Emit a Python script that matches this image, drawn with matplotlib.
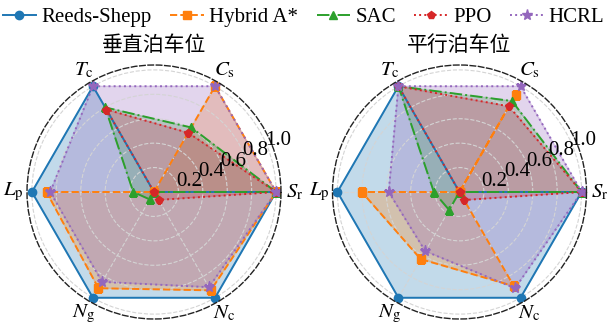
import numpy as np
import matplotlib
matplotlib.use("Agg")
import matplotlib.pyplot as plt

plt.rcParams['font.family'] = ['Liberation Serif', 'DejaVu Serif']
plt.rcParams['mathtext.fontset'] = 'stix'

# metric order: S_r, C_s, T_c, L_p, N_g, N_c
labels = [r'$S_\mathrm{r}$', r'$C_\mathrm{s}$', r'$T_\mathrm{c}$',
          r'$L_\mathrm{p}$', r'$N_\mathrm{g}$', r'$N_\mathrm{c}$']
methods = ['Reeds-Shepp', 'Hybrid A*', 'SAC', 'PPO', 'HCRL']
titles = ['垂直泊车位', '平行泊车位']
rticks = [0.2, 0.4, 0.6, 0.8, 1.0]

# perpendicular parking
perp_rs = [1.0, 0.0, 1.0, 1.0, 1.0, 1.0]
perp_ha = [1.0, 1.0, 0.0, 0.88, 0.91, 0.93]
perp_sac = [1.0, 0.61, 0.80, 0.17, 0.07, 0.0]
perp_ppo = [1.0, 0.56, 0.78, 0.0, 0.0, 0.075]
perp_hcrl = [1.0, 1.0, 1.0, 0.85, 0.85, 0.90]

# parallel parking
par_rs = [1.0, 0.0, 1.0, 1.0, 1.0, 1.0]
par_ha = [0.0, 0.92, 0.0, 0.80, 0.635, 0.89]
par_sac = [1.0, 0.86, 1.0, 0.21, 0.17, 0.0]
par_ppo = [1.0, 0.81, 1.0, 0.0, 0.0, 0.076]
par_hcrl = [1.0, 1.0, 1.0, 0.58, 0.56, 0.91]

colors = ['#1f77b4', '#ff7f0e', '#2ca02c', '#d62728', '#9467bd']
styles = ['-', '--', '-.', ':', ':']
markers = ['o', 's', '^', 'p', '*']
msizes = [6, 6, 6, 6, 8]

angles = np.linspace(0, 2 * np.pi, len(labels), endpoint=False)
closed = np.append(angles, angles[0])

fig = plt.figure(figsize=(6.07, 3.29), dpi=100)
R = 1.04
rad = 127  # axes radius in pixels
centers = [154, 459.5]
cy = 192


def radar(ax, series):
    for vals, c, ls, mk, ms, name in zip(series, colors, styles, markers, msizes, methods):
        v = np.append(vals, vals[0])
        ax.plot(closed, v, color=c, linestyle=ls, marker=mk, markersize=ms,
                linewidth=1.4, label=name)
        ax.fill(closed, v, color=c, alpha=0.27)
    ax.set_ylim(0, R)
    ax.set_xticks(angles)
    ax.set_xticklabels(labels, fontsize=15)
    ax.tick_params(axis='x', pad=-1)
    ax.set_yticks(rticks)
    ax.set_yticklabels([])
    # radial labels along the 22.5 degree ray, left-anchored at each ring
    for r in rticks:
        ax.text(np.deg2rad(25), r, f'{r:.1f}', fontsize=15, ha='left', va='center',
                zorder=5)
    # grid sits over the fills but under the lines
    ax.set_axisbelow('line')
    ax.grid(True, color='#d4d4d4', linestyle='--', linewidth=0.8)
    ax.spines['polar'].set_linestyle((0, (4, 2)))
    ax.spines['polar'].set_linewidth(1.0)
    ax.spines['polar'].set_color('#222222')


all_series = [
    [perp_rs, perp_ha, perp_sac, perp_ppo, perp_hcrl],
    [par_rs, par_ha, par_sac, par_ppo, par_hcrl],
]

axes = []
for cx, series, title in zip(centers, all_series, titles):
    ax = fig.add_axes([(cx - rad) / 607, (329 - cy - rad) / 329, 2 * rad / 607, 2 * rad / 329],
                      projection='polar')
    radar(ax, series)
    fig.text(cx / 607, 1 - 45 / 329, title, ha='center', va='center', fontsize=15,
             family=['Noto Sans CJK SC', 'DejaVu Sans'])
    axes.append(ax)

handles, names = axes[0].get_legend_handles_labels()
fig.legend(handles, names, loc='upper center', bbox_to_anchor=(0.5, 1.015), ncol=5,
           frameon=False, fontsize=15, handlelength=1.6, handletextpad=0.25,
           columnspacing=0.9, borderaxespad=0.2)

fig.savefig('out.png', dpi=100)
